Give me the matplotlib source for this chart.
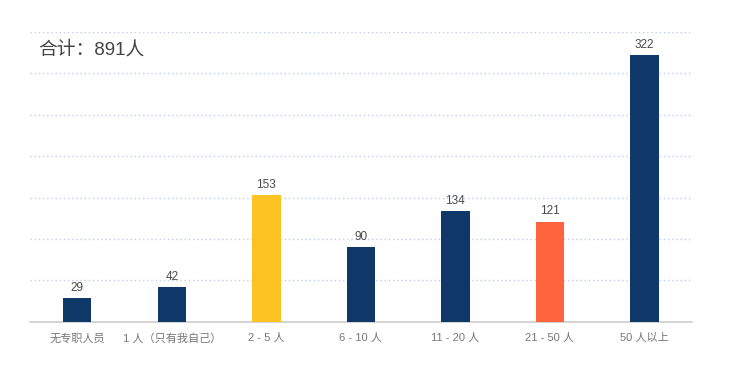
import matplotlib.pyplot as plt

plt.rcParams['font.family'] = ['Liberation Sans', 'Noto Sans CJK SC', 'DejaVu Sans']

categories = ['无专职人员', '1 人（只有我自己）', '2 - 5 人', '6 - 10 人', '11 - 20 人', '21 - 50 人', '50 人以上']
values = [29, 42, 153, 90, 134, 121, 322]
colors = ['#0f3868', '#0f3868', '#fcc322', '#0f3868', '#0f3868', '#ff643e', '#0f3868']
total_label = '合计：891人'

fig = plt.figure(figsize=(7.32, 3.70), dpi=100)
ax = fig.add_axes([0.041, 0.13, 0.904, 0.784])

x = range(len(categories))
bars = ax.bar(x, values, width=0.3, color=colors, zorder=3)
for xi, v in zip(x, values):
    ax.text(xi, v + 5, str(v), ha='center', va='bottom', fontsize=8.5,
            color='#4a4a4a')

ax.set_xlim(-0.5, len(categories) - 0.5)
ax.set_ylim(0, 350)
ax.set_yticks(range(50, 351, 50))
ax.yaxis.grid(True, linestyle=(0, (1, 2)), color='#bcd0f5', linewidth=1)
ax.tick_params(axis='y', left=False, labelleft=False)
ax.tick_params(axis='x', length=0, labelsize=8, labelcolor='#777777', pad=8)
ax.set_xticks(list(x))
ax.set_xticklabels(categories)

for s in ['top', 'right', 'left']:
    ax.spines[s].set_visible(False)
ax.spines['bottom'].set_color('#cccccc')
ax.spines['bottom'].set_linewidth(1.2)

fig.text(0.052, 0.865, total_label, fontsize=13.5, color='#444444', va='center')

fig.savefig('out.png', dpi=100)
